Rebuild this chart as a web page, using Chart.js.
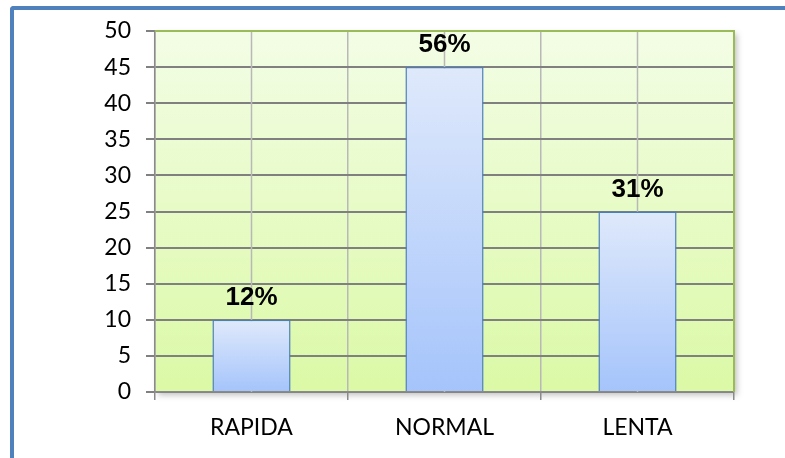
<!DOCTYPE html>
<html lang="es">
<head>
  <meta charset="UTF-8" />
  <title>Velocidad</title>
  <script src="https://cdn.jsdelivr.net/npm/chart.js"></script>
  <style>
    body { margin: 0; background: #fff; overflow: hidden; }
    .frame {
      position: absolute; left: 10px; top: 6px;
      width: 900px; height: 600px;
      border-left: 4px solid #4f81bd; border-top: 4px solid #4f81bd;
      border-top-left-radius: 4px;
    }
    #wrap { position: absolute; left: 0; top: 0; width: 785px; height: 458px; }
  </style>
</head>
<body>
  <div class="frame"></div>
  <div id="wrap"><canvas id="c" width="785" height="458"></canvas></div>
  <script>
    // data
    const categories = ['RAPIDA', 'NORMAL', 'LENTA'];
    const values = [10, 45, 25];
    const percentLabels = ['12%', '56%', '31%'];
    const yMin = 0, yMax = 50, yStep = 5;

    // plot area background (gradient + shadow + green top/right edge)
    const plotBackground = {
      id: 'plotBackground',
      beforeDraw(chart) {
        const { ctx, chartArea: a } = chart;
        ctx.save();
        ctx.shadowColor = 'rgba(0,0,0,0.25)';
        ctx.shadowBlur = 6;
        ctx.shadowOffsetX = 3;
        ctx.shadowOffsetY = 3;
        const g = ctx.createLinearGradient(0, a.top, 0, a.bottom);
        g.addColorStop(0, '#f3fde6');
        g.addColorStop(1, '#dbf9a6');
        ctx.fillStyle = g;
        ctx.fillRect(a.left, a.top, a.right - a.left, a.bottom - a.top);
        ctx.restore();
      },
      afterDatasetsDraw(chart) {
        const { ctx, chartArea: a } = chart;
        ctx.save();
        ctx.strokeStyle = '#9bbb59';
        ctx.lineWidth = 2;
        ctx.beginPath();
        ctx.moveTo(a.left, a.top);
        ctx.lineTo(a.right, a.top);
        ctx.lineTo(a.right, a.bottom);
        ctx.stroke();
        ctx.restore();
      }
    };

    // extra vertical gridlines through the category centres
    const centreLines = {
      id: 'centreLines',
      beforeDatasetsDraw(chart) {
        const { ctx, chartArea: a } = chart;
        const x = chart.scales.x;
        ctx.save();
        ctx.strokeStyle = '#b8b8b8';
        ctx.lineWidth = 1.5;
        categories.forEach((c, i) => {
          const px = x.getPixelForValue(i);
          ctx.beginPath();
          ctx.moveTo(px, a.top);
          ctx.lineTo(px, a.bottom);
          ctx.stroke();
        });
        ctx.restore();
      }
    };

    // percentage labels above the bars
    const barLabels = {
      id: 'barLabels',
      afterDatasetsDraw(chart) {
        const { ctx } = chart;
        const meta = chart.getDatasetMeta(0);
        ctx.save();
        ctx.font = 'bold 26px "Liberation Sans", Arial, sans-serif';
        ctx.fillStyle = '#000';
        ctx.textAlign = 'center';
        ctx.textBaseline = 'alphabetic';
        meta.data.forEach((bar, i) => {
          ctx.fillText(percentLabels[i], bar.x, bar.y - 15);
        });
        ctx.restore();
      }
    };

    function barGradient(context) {
      const chart = context.chart;
      if (!chart.chartArea) return '#c5d9fb';
      const y = chart.scales.y;
      const top = y.getPixelForValue(context.raw);
      const bottom = y.getPixelForValue(0);
      const g = chart.ctx.createLinearGradient(0, top, 0, bottom);
      g.addColorStop(0, '#dfe9fb');
      g.addColorStop(1, '#a5c4fb');
      return g;
    }

    new Chart(document.getElementById('c'), {
      type: 'bar',
      data: {
        labels: categories,
        datasets: [{
          data: values,
          backgroundColor: barGradient,
          borderColor: '#4a7ebb',
          borderWidth: 1.5,
          categoryPercentage: 1,
          barPercentage: 0.405
        }]
      },
      options: {
        responsive: false,
        animation: false,
        layout: { padding: { left: 0, top: 31, right: 51, bottom: 0 } },
        plugins: { legend: { display: false }, tooltip: { enabled: false } },
        scales: {
          x: {
            grid: { offset: true, color: '#b8b8b8', lineWidth: 1.5, tickLength: 8, tickColor: '#8a8a8a' },
            border: { color: '#8a8a8a', width: 1.5 },
            ticks: { color: '#000', padding: 14, font: { family: 'Lato', size: 23 } },
            afterFit(s) { s.height = 66; }
          },
          y: {
            min: yMin, max: yMax,
            grid: { color: '#808080', lineWidth: 2, tickLength: 9 },
            border: { color: '#8a8a8a', width: 1.5 },
            ticks: { stepSize: yStep, color: '#000', padding: 15, font: { family: 'Lato', size: 23 } },
            afterFit(s) { s.width = 155; }
          }
        }
      },
      plugins: [plotBackground, centreLines, barLabels]
    });
  </script>
</body>
</html>
